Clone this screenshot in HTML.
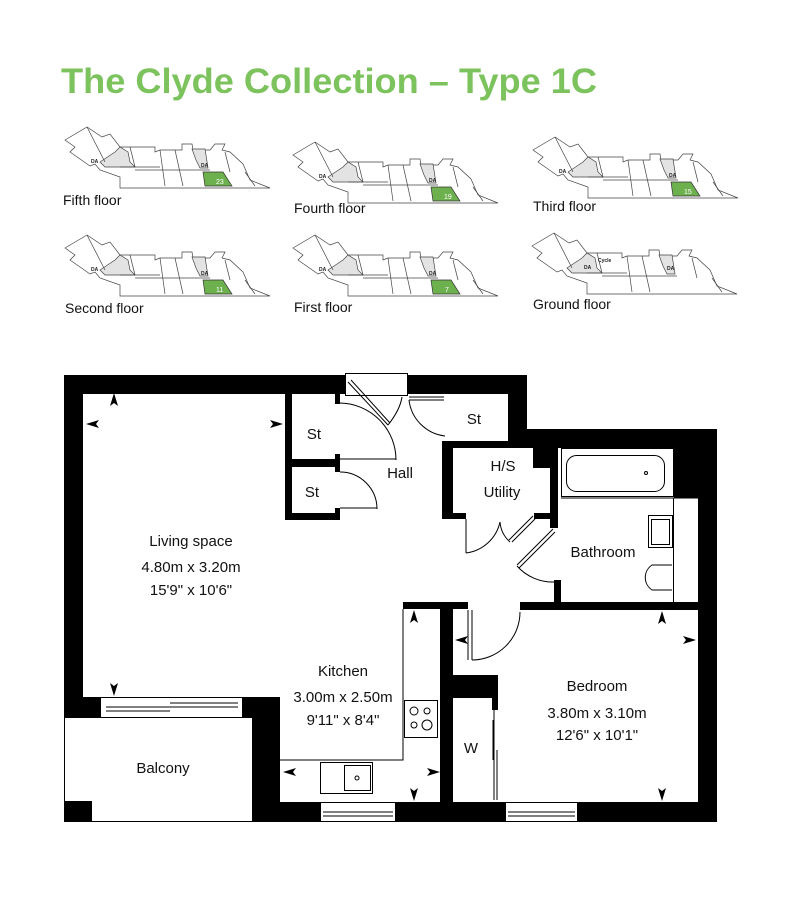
<!DOCTYPE html>
<html><head><meta charset="utf-8"><style>
html,body{margin:0;padding:0;background:#fff;}
svg{display:block;}
text{font-family:"Liberation Sans",sans-serif;}
</style></head><body>
<svg width="800" height="900" viewBox="0 0 800 900" xmlns="http://www.w3.org/2000/svg">
<rect width="800" height="900" fill="#fff"/>
<text x="61" y="93" font-size="35" font-weight="bold" fill="#7cc35e" textLength="536" lengthAdjust="spacingAndGlyphs">The Clyde Collection – Type 1C</text>

<defs>
<g id="kb" fill="none" stroke="#444" stroke-width="0.7">
<polygon points="5,18 27,5 42,15 50,12 60,25 95,25 95,30 100,28 122,28 122,22 132,22 133,28 150,28 155,22 165,22 162,28 170,30 183,42 190,58 210,66 60,66 60,55 40,48 35,42 30,44 20,37 10,30 15,25" fill="#fff"/>
<polygon points="40,40 55,30 60,25 68,30 70,40 75,45 45,45" fill="#e3e3e3"/>
<polygon points="132,27 145,27 148,46 140,46 136,38" fill="#e3e3e3"/>
<line x1="60" y1="45" x2="100" y2="45"/><line x1="70" y1="25" x2="75" y2="45"/>
<line x1="100" y1="28" x2="105" y2="64"/><line x1="115" y1="28" x2="123" y2="64"/>
<line x1="75" y1="48" x2="150" y2="48"/><line x1="27" y1="5" x2="45" y2="40"/>
<line x1="165" y1="30" x2="170" y2="50"/><line x1="185" y1="50" x2="195" y2="64"/>
</g>
<g id="kp">
<use href="#kb"/>
<polygon points="143,50 163,50 172,64 145,64" fill="#6db14f" stroke="#333" stroke-width="0.7"/>
</g>
</defs>
<use href="#kp" x="60" y="122"/>
<use href="#kp" x="288" y="137"/>
<use href="#kp" x="528" y="132"/>
<use href="#kp" x="60" y="230"/>
<use href="#kp" x="288" y="230"/>
<use href="#kb" x="527" y="228"/>
<g font-size="5" font-weight="bold" fill="#222">
<text x="91" y="163">DA</text><text x="201" y="167">DA</text>
<text x="319" y="178">DA</text><text x="429" y="182">DA</text>
<text x="559" y="173">DA</text><text x="669" y="177">DA</text>
<text x="91" y="271">DA</text><text x="201" y="275">DA</text>
<text x="319" y="271">DA</text><text x="429" y="275">DA</text>
<text x="584" y="269">DA</text><text x="598" y="262">Cycle</text><text x="667" y="270">DA</text>
</g>
<g font-size="7" fill="#fff">
<text x="216" y="184">23</text><text x="444" y="199">19</text><text x="684" y="194">15</text>
<text x="216" y="292">11</text><text x="445" y="292">7</text>
</g>
<g font-size="14" fill="#111">
<text x="63" y="205">Fifth floor</text>
<text x="294" y="213">Fourth floor</text>
<text x="533" y="211">Third floor</text>
<text x="65" y="313">Second floor</text>
<text x="294" y="312">First floor</text>
<text x="533" y="309">Ground floor</text>
</g>

<g fill="#000">
<rect x="64" y="375" width="281" height="19"/>
<rect x="408" y="375" width="119" height="19"/>
<rect x="64" y="375" width="19" height="342"/>
<rect x="508" y="375" width="19" height="73"/>
<rect x="527" y="429" width="190" height="19"/>
<rect x="674" y="429" width="43" height="69"/>
<rect x="698" y="429" width="19" height="393"/>
<rect x="285" y="394" width="7" height="126"/>
<rect x="285" y="459" width="55" height="8"/>
<rect x="285" y="513" width="55" height="7"/>
<rect x="335" y="394" width="5" height="10"/>
<rect x="335" y="454" width="5" height="18"/>
<rect x="335" y="508" width="5" height="12"/>
<rect x="442" y="441" width="66" height="7"/>
<rect x="442" y="441" width="11" height="78"/>
<rect x="442" y="513" width="24" height="6"/>
<rect x="533" y="429" width="25" height="39"/>
<rect x="550" y="448" width="8" height="80"/>
<rect x="534" y="513" width="24" height="6"/>
<rect x="554" y="580" width="7" height="30"/>
<rect x="520" y="602" width="178" height="8"/>
<rect x="403" y="602" width="65" height="7"/>
<rect x="440" y="602" width="13" height="220"/>
<rect x="453" y="675" width="45" height="23"/>
<rect x="492" y="698" width="6" height="12"/>
<rect x="64" y="697" width="36" height="20"/>
<rect x="243" y="697" width="37" height="20"/>
<rect x="252" y="697" width="28" height="125"/>
<rect x="280" y="802" width="40" height="20"/>
<rect x="396" y="802" width="109" height="20"/>
<rect x="578" y="802" width="139" height="20"/>
<rect x="64" y="801" width="28" height="21"/>
</g>
<g fill="none" stroke="#000" stroke-width="1">
<rect x="64.5" y="717.5" width="188" height="104"/>
<rect x="100.5" y="697.5" width="142" height="20"/>
<line x1="106" y1="707" x2="170" y2="707"/><line x1="106" y1="711" x2="170" y2="711"/>
<line x1="170" y1="703" x2="238" y2="703"/><line x1="170" y1="707" x2="238" y2="707"/>
<rect x="320.5" y="802.5" width="75" height="19"/>
<line x1="323" y1="812" x2="393" y2="812"/><line x1="323" y1="816" x2="393" y2="816"/>
<rect x="505.5" y="802.5" width="72" height="19"/>
<line x1="508" y1="812" x2="575" y2="812"/><line x1="508" y1="816" x2="575" y2="816"/>
<rect x="345.5" y="373.5" width="62" height="22"/>
<line x1="348" y1="382" x2="388" y2="425"/><line x1="351" y1="380" x2="390" y2="423"/>
<path d="M340,403 A57,57 0 0 1 396,460"/><line x1="340" y1="459" x2="396" y2="459"/>
<path d="M388,425 Q400,410 402,397"/>
<path d="M340,472 A37,37 0 0 1 377,509"/><line x1="340" y1="508" x2="377" y2="508"/>
<line x1="409" y1="397" x2="444" y2="397"/><line x1="409" y1="400" x2="444" y2="400"/>
<path d="M409,400 A41,41 0 0 0 445,436"/>
<line x1="466" y1="519" x2="466" y2="553"/>
<path d="M466,553 A40,40 0 0 0 500,522"/>
<path d="M500,522 A30,30 0 0 0 510,542"/>
<line x1="512" y1="542" x2="535" y2="519"/><line x1="509" y1="540" x2="533" y2="516"/>
<line x1="517" y1="565" x2="553" y2="529"/><line x1="519" y1="568" x2="555" y2="532"/>
<path d="M517,566 A48,48 0 0 0 555,582"/>
<line x1="468" y1="610" x2="468" y2="660"/><line x1="472" y1="610" x2="472" y2="660"/>
<path d="M472,660 A48,48 0 0 0 520,612"/>
<line x1="494" y1="710" x2="494" y2="800"/><line x1="497" y1="750" x2="497" y2="800"/><line x1="493" y1="720" x2="493" y2="760"/>
<polyline points="403,609 403,760 280,760"/>
<rect x="320.5" y="762.5" width="52" height="31"/>
<rect x="344.5" y="765.5" width="26" height="25"/>
<circle cx="357" cy="778" r="2"/>
<rect x="404.5" y="700.5" width="33" height="37"/>
<circle cx="414" cy="711" r="4"/><circle cx="427" cy="711" r="3"/>
<circle cx="414" cy="725" r="3"/><circle cx="427" cy="725" r="5"/>
<rect x="561.5" y="448.5" width="112" height="48"/>
<rect x="566.5" y="455.5" width="98" height="36" rx="10"/>
<circle cx="646" cy="473" r="1.5"/>
<line x1="561" y1="498" x2="698" y2="498"/>
<line x1="673.5" y1="498" x2="673.5" y2="602"/>
<rect x="648.5" y="515.5" width="24" height="32"/>
<rect x="651.5" y="519.5" width="18" height="25"/>
<path d="M672,565 L652,565 A15,15 0 0 0 652,590 L672,590"/>
</g>
<g fill="#000" stroke="none">
<path d="M114,393 l4,13 l-4,-3 l-4,3z"/>
<path d="M86,424 l13,-4 l-3,4 l3,4z"/>
<path d="M283,424 l-13,-4 l3,4 l-3,4z"/>
<path d="M114,696 l4,-13 l-4,3 l-4,-3z"/>
<path d="M414,610 l4,13 l-4,-3 l-4,3z"/>
<path d="M283,772 l13,-4 l-3,4 l3,4z"/>
<path d="M440,772 l-13,-4 l3,4 l-3,4z"/>
<path d="M414,801 l4,-13 l-4,3 l-4,-3z"/>
<path d="M455,640 l13,-4 l-3,4 l3,4z"/>
<path d="M696,640 l-13,-4 l3,4 l-3,4z"/>
<path d="M662,611 l4,13 l-4,-3 l-4,3z"/>
<path d="M662,801 l4,-13 l-4,3 l-4,-3z"/>
</g>
<g font-size="15" fill="#111" text-anchor="middle">
<text x="314" y="439">St</text>
<text x="312" y="497">St</text>
<text x="474" y="424">St</text>
<text x="400" y="478">Hall</text>
<text x="503" y="471">H/S</text>
<text x="502" y="497">Utility</text>
<text x="603" y="557">Bathroom</text>
<text x="191" y="546">Living space</text>
<text x="191" y="572">4.80m x 3.20m</text>
<text x="191" y="595">15'9" x 10'6"</text>
<text x="343" y="676">Kitchen</text>
<text x="343" y="702">3.00m x 2.50m</text>
<text x="343" y="725">9'11" x 8'4"</text>
<text x="597" y="691">Bedroom</text>
<text x="597" y="718">3.80m x 3.10m</text>
<text x="597" y="740">12'6" x 10'1"</text>
<text x="471" y="753">W</text>
<text x="163" y="773">Balcony</text>
</g>
</svg>
</body></html>
